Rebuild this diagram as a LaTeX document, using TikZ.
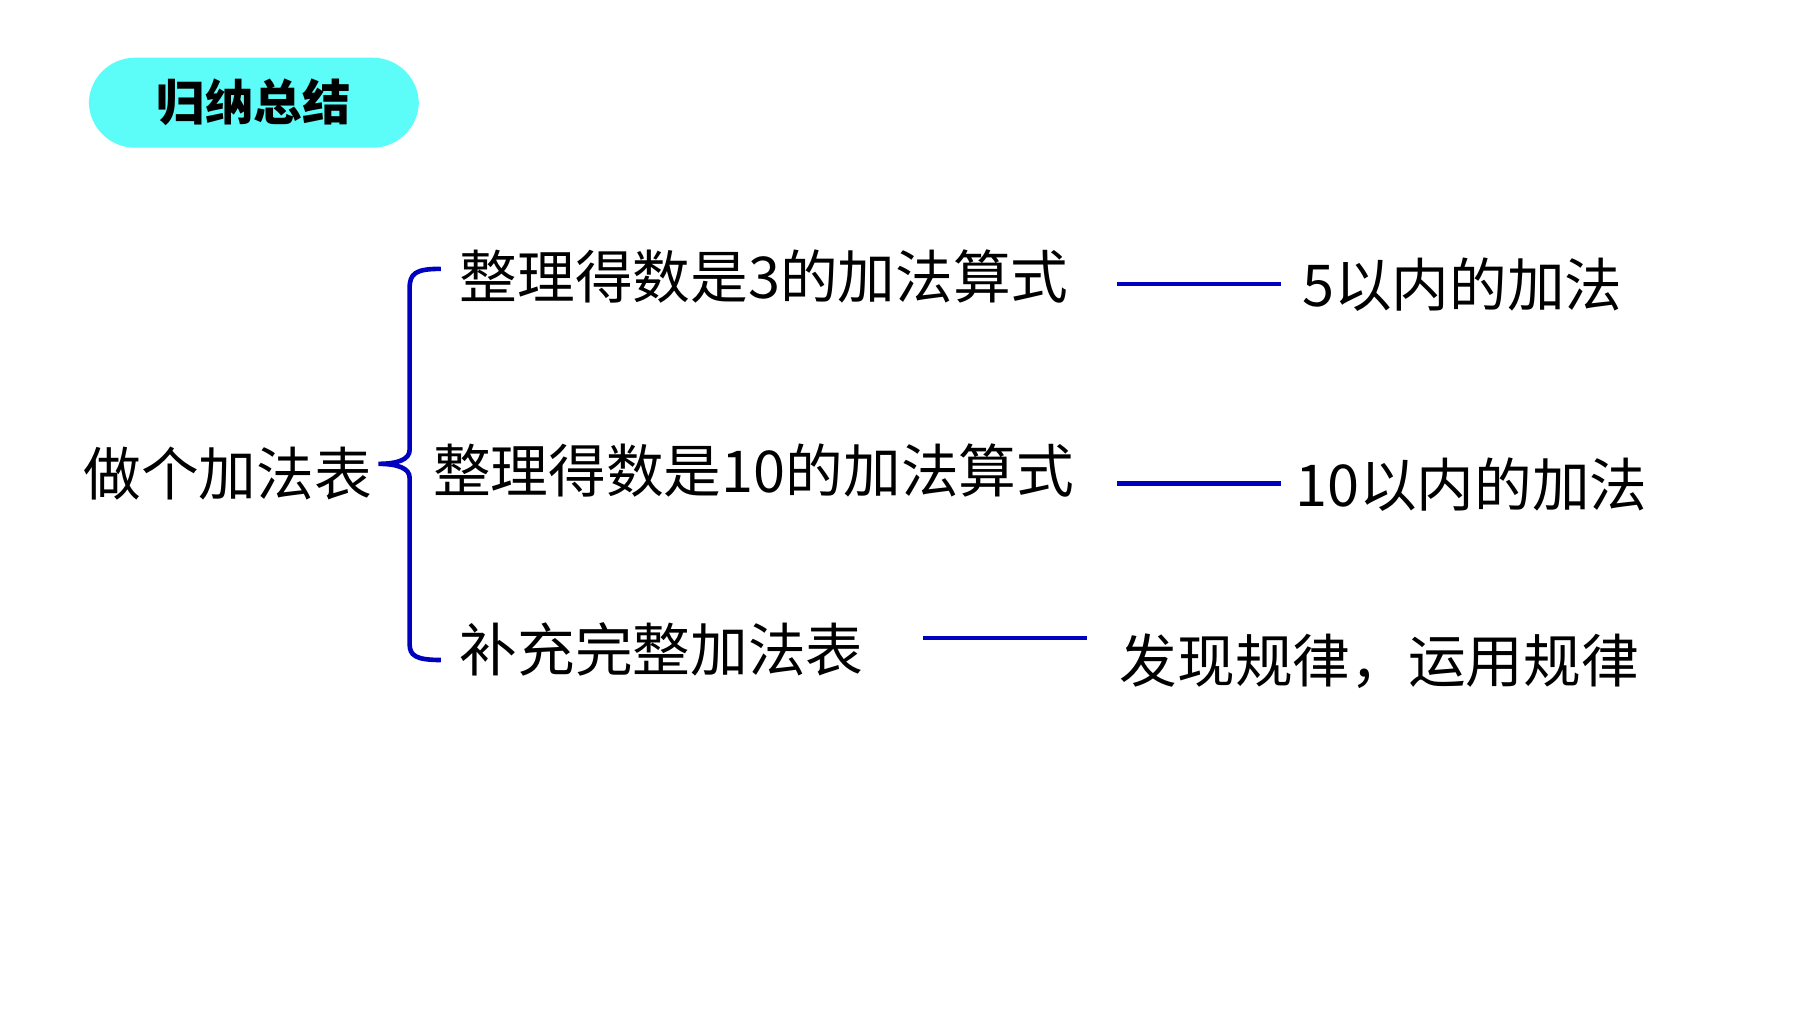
\documentclass[tikz,border=0pt]{standalone}
\usepackage{fontspec}
\setmainfont{Noto Sans CJK SC}
\newfontfamily\cjkb[BoldFont={Noto Sans CJK SC Bold}]{Noto Sans CJK SC}
\begin{document}
\begin{tikzpicture}[x=0.5pt,y=-0.5pt,
  txt/.style={anchor=west,inner sep=0pt,font=\fontsize{25}{30}\selectfont},
  conn/.style={draw=blue!75!black,line width=2pt}]
\useasboundingbox (0,0) rectangle (1560,878);
\definecolor{pill}{HTML}{5CFCF8}
\node[fill=pill,rounded corners=20pt,minimum width=143pt,minimum height=39pt,inner sep=0pt,font=\fontsize{21}{24}\selectfont\bfseries] (title) at (220,89) {归纳总结};
\node[txt] (root) at (72,410) {做个加法表};
\node[txt] (a1) at (398,240) {整理得数是3的加法算式};
\node[txt] (a2) at (375,408) {整理得数是10的加法算式};
\node[txt] (a3) at (398,563) {补充完整加法表};
\node[txt] (b1) at (1128,247) {5以内的加法};
\node[txt] (b2) at (1122,420) {10以内的加法};
\node[txt] (b3) at (970,573) {发现规律，运用规律};
\coordinate (l1a) at (968,246); \coordinate (l1b) at (1110,246);
\coordinate (l2a) at (968,419); \coordinate (l2b) at (1110,419);
\coordinate (l3a) at (800,553); \coordinate (l3b) at (942,553);
\draw[conn] (l1a) -- (l1b);
\draw[conn] (l2a) -- (l2b);
\draw[conn] (l3a) -- (l3b);
\draw[conn] (382,233) .. controls (360,233) and (355,237) .. (355,250) -- (355,390)
  .. controls (355,398) and (345,402) .. (328,402)
  .. controls (345,402) and (355,406) .. (355,414) -- (355,558)
  .. controls (355,568) and (360,572) .. (382,572);
\end{tikzpicture}
\end{document}
